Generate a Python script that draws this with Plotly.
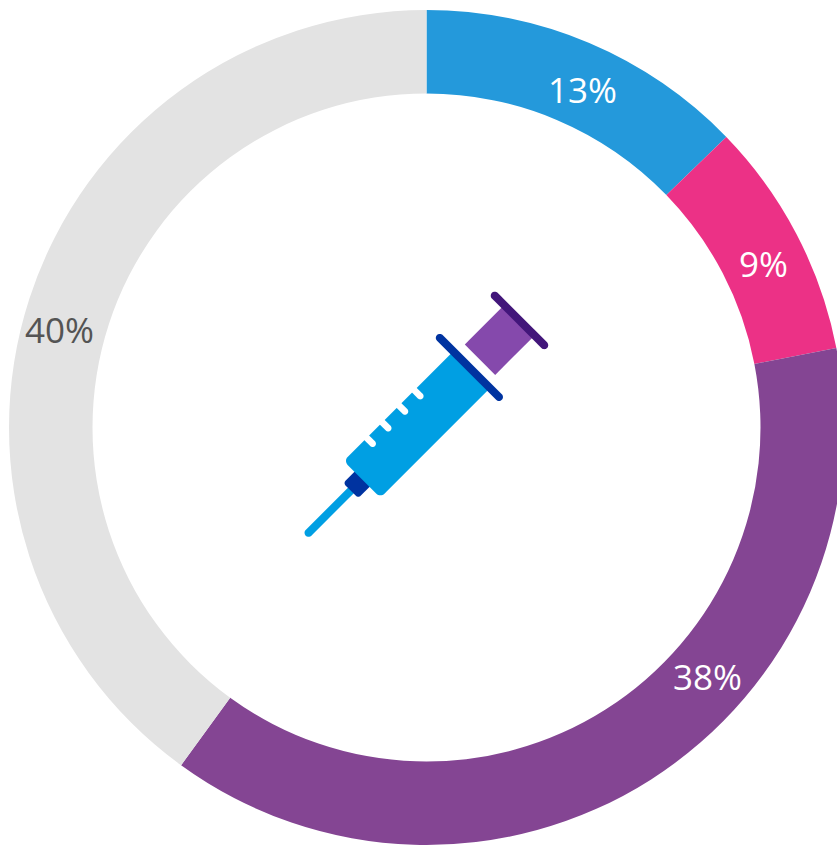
import math
import plotly.graph_objects as go

# Data
categories = ["A", "B", "C", "D"]
values = [12.75, 9.2, 38.05, 40.0]
value_labels = ["13%", "9%", "38%", "40%"]
slice_colors = ["#2499DB", "#EC3186", "#844593", "#E3E3E3"]
label_colors = ["#FFFFFF", "#FFFFFF", "#FFFFFF", "#545454"]
label_x = [582, 763.5, 707, 59]
label_y = [89, 263, 676, 329]

W, H = 853, 855
CX, CY, R = 426.5, 427.5, 417.5


def px(x, y):
    return x / W, 1 - y / H


def rrect(u0, u1, v0, v1, r):
    """Rounded rectangle in the syringe's rotated frame (zoom units) -> SVG path in paper coordinates."""
    rs = r if isinstance(r, (list, tuple)) else [r] * 4
    corners = [(u0, v0, 180, rs[0]), (u1, v0, 270, rs[1]), (u1, v1, 0, rs[2]), (u0, v1, 90, rs[3])]
    sgn = [(1, 1), (-1, 1), (-1, -1), (1, -1)]
    pts = []
    for (cu, cv, a0, rad), (su, sv) in zip(corners, sgn):
        ccu, ccv = cu + su * rad, cv + sv * rad
        for i in range(9):
            a = math.radians(a0 + i * 90 / 8)
            pts.append((ccu + rad * math.cos(a), ccv + rad * math.sin(a)))
    out = []
    for u, v in pts:
        # rotated frame: x-y = u*sqrt2, x+y-814 = v*sqrt2 in zoom pixels
        zx = (u * math.sqrt(2) + v * math.sqrt(2) + 814) / 2
        zy = (v * math.sqrt(2) - u * math.sqrt(2) + 814) / 2
        ox, oy = px(290 + zx / 3, 280 + zy / 3)
        out.append(f"{ox:.5f},{oy:.5f}")
    return "M" + " L".join(out) + " Z"


def part(path, color):
    return dict(type="path", xref="paper", yref="paper", path=path,
                fillcolor=color, line=dict(width=0), layer="above")


BLUE, NAVY, VIOLET, DEEP = "#009FE3", "#0033A0", "#8549AC", "#42167A"
shapes = [
    part(rrect(-509, -290, -12, 12, 12), BLUE),
    part(rrect(-318, -250, -32, 32, [10, 0, 0, 10]), NAVY),
    part(rrect(-270, 188, -78, 78, [17, 0, 0, 17]), BLUE),
]
for u in [30, -35, -106, -172]:
    shapes.append(part(rrect(u - 10, u + 10, -90, -43, 10), "#FFFFFF"))
shapes += [
    part(rrect(183, 207, -147, 128, 12), NAVY),
    part(rrect(234, 395, -68, 61, 0), VIOLET),
    part(rrect(389, 413, -120, 114, 12), DEEP),
]

annotations = [
    dict(x=px(x, y)[0], y=px(x, y)[1], xref="paper", yref="paper", text=t,
         showarrow=False, xanchor="center", yanchor="middle",
         font=dict(family="Open Sans", size=35, color=c))
    for x, y, t, c in zip(label_x, label_y, value_labels, label_colors)
]

fig = go.Figure(go.Pie(
    labels=categories, values=values, sort=False, direction="clockwise", rotation=0,
    hole=0.8, textinfo="none", showlegend=False,
    marker=dict(colors=slice_colors, line=dict(width=0)),
    domain=dict(x=[(CX - R) / W, (CX + R) / W], y=[1 - (CY + R) / H, 1 - (CY - R) / H]),
))
fig.update_layout(width=W, height=H, margin=dict(l=0, r=0, t=0, b=0),
                  paper_bgcolor="white", shapes=shapes, annotations=annotations)
fig.write_html("out.html", config=dict(displayModeBar=False),
               post_script="document.body.style.margin='0';document.documentElement.style.overflow='hidden';document.body.style.overflow='hidden';")
